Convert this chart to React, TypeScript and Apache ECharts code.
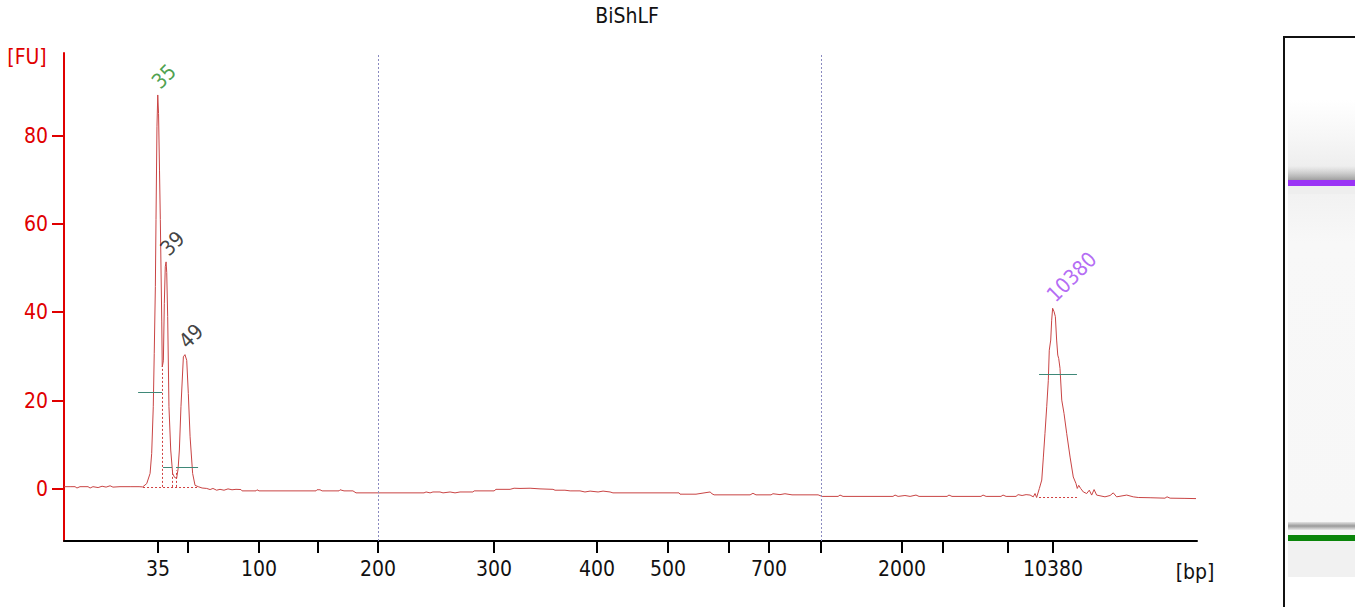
import { useEffect, useRef } from "react";
import * as echarts from "echarts";

const CHART_TITLE = "BiShLF";
const FONT = "'DejaVu Sans Condensed', 'DejaVu Sans', sans-serif";
const FS = 21;

// Electropherogram trace: migration time (s) and fluorescence (FU)
const traceTime = [
  40.0, 40.38, 40.69, 40.81, 41.0, 41.5, 41.63, 41.81, 42.13, 42.38, 42.63, 42.88, 43.06, 43.5, 44.13, 44.69,
  44.92, 45.17, 45.38, 45.48, 45.58, 45.64, 45.71, 45.75, 45.81, 45.86, 45.91, 45.97, 46.02, 46.11, 46.14,
  46.21, 46.27, 46.33, 46.38, 46.42, 46.48, 46.56, 46.67, 46.79, 46.91, 47.04, 47.13, 47.21, 47.31, 47.46,
  47.56, 47.67, 47.77, 47.88, 48.04, 48.19, 48.39, 48.63, 48.92, 49.13, 49.31, 49.54, 49.75, 50.0, 50.25,
  50.5, 50.75, 51.06, 51.13, 52.0, 52.06, 52.19, 53.5, 54.75, 55.75, 55.81, 56.0, 56.13, 57.19, 57.25, 57.5,
  58.06, 58.25, 59.75, 61.0, 62.5, 62.63, 62.88, 63.06, 63.5, 63.69, 64.13, 64.44, 64.75, 65.56, 65.63,
  66.88, 67.0, 67.88, 68.13, 68.5, 69.13, 69.75, 70.56, 70.69, 71.31, 71.63, 72.25, 72.56, 72.88, 73.38,
  73.69, 74.13, 74.31, 76.0, 77.25, 78.44, 78.5, 79.5, 80.38, 80.5, 80.63, 82.88, 83.06, 83.25, 84.19,
  84.31, 84.75, 85.06, 85.5, 87.13, 87.38, 88.38, 88.5, 88.69, 91.81, 91.94, 92.13, 92.56, 92.88, 93.25,
  93.44, 95.19, 95.31, 95.5, 97.31, 97.44, 97.63, 98.56, 98.69, 98.88, 99.5, 99.63, 99.88, 100.13, 100.38,
  100.58, 100.69, 100.79, 100.96, 101.11, 101.21, 101.31, 101.42, 101.52, 101.58, 101.67, 101.73, 101.79,
  101.88, 101.96, 102.04, 102.11, 102.17, 102.25, 102.36, 102.5, 102.67, 102.88, 103.08, 103.25, 103.33,
  103.42, 103.54, 103.71, 103.92, 104.08, 104.23, 104.38, 104.54, 105.06, 105.38, 105.58, 105.79, 106.42,
  106.83, 107.14, 107.88, 108.81, 108.94, 109.13, 110.06, 110.75,
];
const traceFU = [
  0.5, 0.5, 0.5, 0.2, 0.5, 0.5, 0.2, 0.5, 0.3, 0.6, 0.4, 0.7, 0.4, 0.5, 0.5, 0.5,
  0.45, 1.2, 3.5, 8, 18.6, 30.7, 45.8, 61, 82, 89.2, 85, 72, 61, 38, 27.6,
  29, 42, 50.3, 51.4, 49, 39, 18.6, 8.8, 3.5, 2.6, 2.4, 4.5, 8.8, 18.6, 29.9,
  30.4, 29.1, 21.6, 11.8, 3.5, 0.8, 0.5, 0.2, 0.1, -0.15, 0.1, -0.3, -0.1, -0.3, 0.0,
  -0.2, -0.1, -0.15, -0.45, -0.45, -0.2, -0.45, -0.45, -0.45, -0.45, -0.2, -0.2, -0.45, -0.45, -0.2, -0.45,
  -0.45, -0.9, -0.9, -0.9, -0.9, -0.7, -0.9, -0.7, -0.7, -0.9, -0.7, -0.9, -0.7, -0.7, -0.45,
  -0.45, -0.1, -0.1, 0.15, 0.1, 0.15, 0.0, -0.1, -0.3, -0.3, -0.45, -0.45, -0.7, -0.5, -0.7,
  -0.5, -0.7, -0.9, -0.9, -0.9, -0.9, -1.2, -1.2, -0.7, -1.1, -1.35, -1.35, -1.0, -1.35, -1.35,
  -1.1, -1.3, -1.1, -1.35, -1.35, -1.7, -1.7, -1.4, -1.7, -1.7, -1.4, -1.7, -1.5, -1.7, -1.4,
  -1.7, -1.7, -1.4, -1.7, -1.7, -1.4, -1.7, -1.7, -1.4, -1.7, -1.7, -1.3, -1.5, -1.3, -1.4,
  -1.8, -1.05, -1.95, 0.1, 2, 7.2, 12.5, 18.6, 24.6, 31.4, 33.7, 38.2, 40.9,
  40.1, 39, 33.7, 30.3, 29.5, 27.3, 20.1, 17.1, 12.5, 7.2, 2.7, 1.2, 0.1,
  0.8, 0.1, -0.7, -1.05, -0.3, -1.4, -0.15, -1.4, -1.8, -1.5, -0.9, -1.8, -1.4,
  -1.8, -1.95, -2.0, -2.1, -1.8, -2.1, -2.15, -2.2,
];

// Ladder (sizing) positions on the time axis
const ladderBp = [35, 50, 100, 150, 200, 300, 400, 500, 600, 700, 1000, 2000, 3000, 7000, 10380];
const ladderTime = [45.88, 47.75, 52.19, 55.88, 59.63, 66.88, 73.31, 77.75, 81.56, 84.06, 87.31, 92.38, 94.94, 99.0, 101.81];
const labeledBp = [35, 100, 200, 300, 400, 500, 700, 2000, 10380];
const dottedBp = [200, 1000];
const yTickValues = [0, 20, 40, 60, 80];

// Called peaks
const peakName = ["35", "39", "49", "10380"];
const peakTime = [45.86, 46.38, 47.56, 101.79];
const peakFU = [89.2, 51.4, 30.4, 40.9];
const peakColor = ["#1f8a1f", "#111111", "#111111", "#a146f2"];

// Peak-height markers (teal) and peak baselines / separators (red dotted)
const markStart = [44.63, 46.19, 47.0, 100.94];
const markEnd = [46.13, 46.75, 48.38, 103.31];
const markFU = [21.9, 4.9, 4.9, 25.9];
const baseStart = [44.94, 100.94];
const baseEnd = [48.38, 103.31];
const baseFU = [0.45, -1.8];
const sepTime = [46.14, 46.79, 47.04];
const sepTopFU = [27.6, 4.2, 4.2];
const sepBottomFU = 0.45;

export default function App() {
  const ref = useRef<HTMLDivElement>(null);
  useEffect(() => {
    if (!ref.current) return;
    const chart = echarts.init(ref.current, undefined, { renderer: "svg" });
    const bpOf = new Map<number, number>();
    ladderTime.forEach((t, i) => bpOf.set(t, ladderBp[i]));
    const timeOf = (bp: number) => ladderTime[ladderBp.indexOf(bp)];

    const segLines: any[] = [];
    markStart.forEach((s, i) =>
      segLines.push([
        { coord: [s, markFU[i]], lineStyle: { color: "#3f8878", type: "solid", width: 1 } },
        { coord: [markEnd[i], markFU[i]] },
      ])
    );
    baseStart.forEach((s, i) =>
      segLines.push([
        { coord: [s, baseFU[i]], lineStyle: { color: "#d04040", type: [2, 2], width: 1 } },
        { coord: [baseEnd[i], baseFU[i]] },
      ])
    );
    sepTime.forEach((t, i) =>
      segLines.push([
        { coord: [t, sepBottomFU], lineStyle: { color: "#d04040", type: [2, 2], width: 1 } },
        { coord: [t, sepTopFU[i]] },
      ])
    );
    dottedBp.forEach((bp) =>
      segLines.push({ xAxis: timeOf(bp), lineStyle: { color: "#8a8ac0", type: [2, 2], width: 1 } })
    );

    chart.setOption({
      animation: false,
      textStyle: { fontFamily: FONT },
      grid: { left: 64, top: 53, width: 1133, height: 488 },
      xAxis: {
        type: "value",
        min: 40,
        max: 110.8125,
        axisLine: { onZero: false, lineStyle: { color: "#000", width: 2 } },
        axisTick: { customValues: ladderTime, length: 12, lineStyle: { color: "#000", width: 2 } },
        axisLabel: {
          customValues: labeledBp.map(timeOf),
          formatter: (v: number) => String(bpOf.get(v) ?? ""),
          color: "#111",
          fontSize: FS,
          fontFamily: FONT,
          margin: 17,
        },
        splitLine: { show: false },
      },
      yAxis: {
        type: "value",
        min: -11.8,
        max: 98.7,
        axisLine: { show: true, lineStyle: { color: "#e00000", width: 2 } },
        axisTick: { show: true, customValues: yTickValues, length: 12, lineStyle: { color: "#e00000", width: 2 } },
        axisLabel: { customValues: yTickValues, color: "#e00000", fontSize: FS, fontFamily: FONT, margin: 16 },
        splitLine: { show: false },
      },
      series: [
        {
          type: "line",
          data: traceTime.map((t, i) => [t, traceFU[i]]),
          showSymbol: false,
          lineStyle: { color: "#c94444", width: 1 },
          silent: true,
          z: 3,
          markLine: { silent: true, symbol: ["none", "none"], label: { show: false }, data: segLines },
        },
        {
          type: "scatter",
          symbolSize: 0,
          silent: true,
          z: 5,
          data: peakName.map((n, i) => ({ name: n, value: [peakTime[i], peakFU[i]], label: { color: peakColor[i] } })),
          label: {
            show: true,
            formatter: (p: any) => p.name,
            position: "top",
            distance: 12,
            rotate: 45,
            align: "left",
            verticalAlign: "middle",
            offset: [-3, 0],
            fontSize: FS,
            fontFamily: FONT,
          },
        },
      ],
      graphic: [
        {
          type: "text",
          x: 627,
          y: 16,
          style: { text: CHART_TITLE, align: "center", verticalAlign: "middle", fill: "#111", font: `${FS}px ${FONT}` },
        },
        {
          type: "text",
          x: 27,
          y: 57,
          style: { text: "[FU]", align: "center", verticalAlign: "middle", fill: "#e00000", font: `${FS}px ${FONT}` },
        },
        {
          type: "text",
          x: 1195,
          y: 572,
          style: { text: "[bp]", align: "center", verticalAlign: "middle", fill: "#111", font: `${FS}px ${FONT}` },
        },
        // gel lane
        {
          type: "rect",
          shape: { x: 1288, y: 100, width: 70, height: 477 },
          style: {
            fill: new echarts.graphic.LinearGradient(0, 0, 0, 1, [
              { offset: 0, color: "#ffffff" },
              { offset: 0.08, color: "#f6f6f6" },
              { offset: 0.14, color: "#eeeeee" },
              { offset: 0.3, color: "#f8f8f8" },
              { offset: 0.9, color: "#f7f7f7" },
              { offset: 1, color: "#f1f1f1" },
            ]),
          },
          silent: true,
        },
        {
          type: "rect",
          shape: { x: 1288, y: 166, width: 70, height: 14 },
          style: {
            fill: new echarts.graphic.LinearGradient(0, 0, 0, 1, [
              { offset: 0, color: "rgba(180,180,180,0)" },
              { offset: 1, color: "rgba(150,150,150,0.9)" },
            ]),
          },
          silent: true,
        },
        { type: "rect", shape: { x: 1288, y: 180, width: 70, height: 6 }, style: { fill: "#9a33f5" }, silent: true },
        { type: "rect", shape: { x: 1288, y: 186, width: 70, height: 8 }, style: { fill: "#eeeeee" }, silent: true },
        {
          type: "rect",
          shape: { x: 1288, y: 522, width: 70, height: 8 },
          style: {
            fill: new echarts.graphic.LinearGradient(0, 0, 0, 1, [
              { offset: 0, color: "#e4e4e4" },
              { offset: 0.5, color: "#9a9a9a" },
              { offset: 1, color: "#e8e8e8" },
            ]),
          },
          silent: true,
        },
        { type: "rect", shape: { x: 1288, y: 535, width: 70, height: 6 }, style: { fill: "#0a850a" }, silent: true },
        { type: "rect", shape: { x: 1288, y: 541, width: 70, height: 36 }, style: { fill: "#f1f1f1" }, silent: true },
        // gel frame
        { type: "rect", shape: { x: 1283, y: 36, width: 2, height: 580 }, style: { fill: "#111" }, silent: true },
        { type: "rect", shape: { x: 1283, y: 36, width: 80, height: 2 }, style: { fill: "#111" }, silent: true },
      ],
    });
    return () => chart.dispose();
  }, []);
  return <div ref={ref} style={{ position: "fixed", left: 0, top: 0, width: 1355, height: 607, background: "#fff" }} />;
}
